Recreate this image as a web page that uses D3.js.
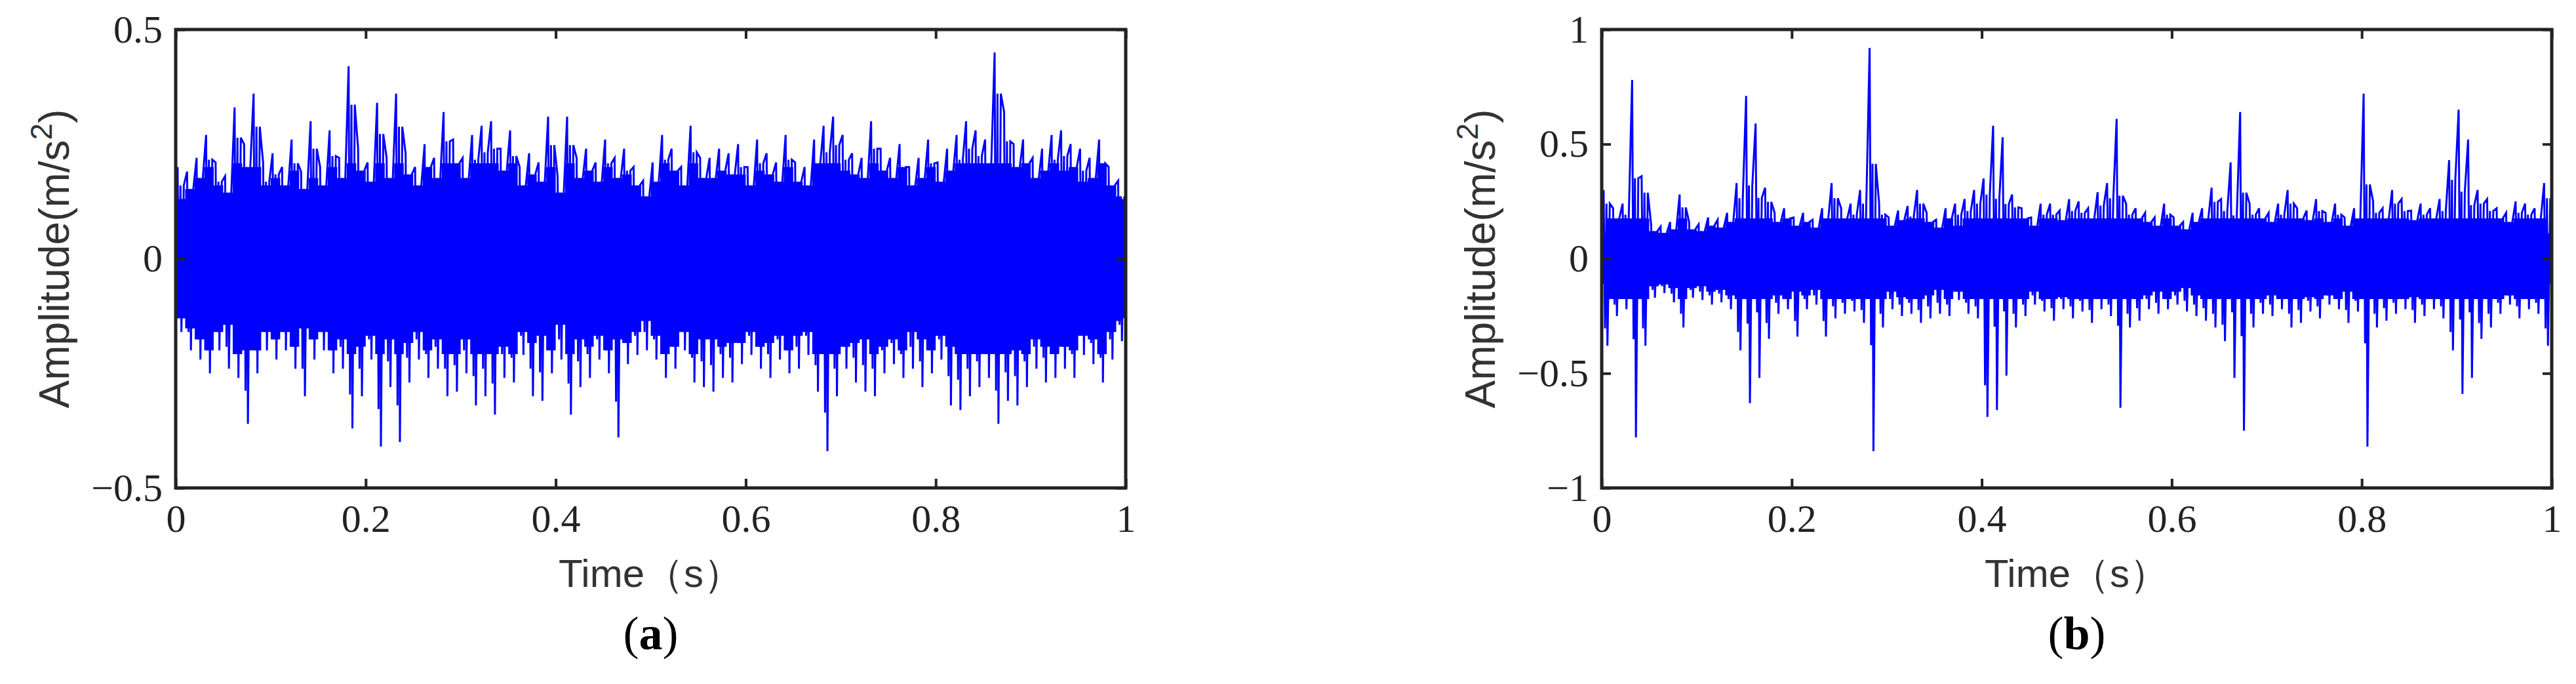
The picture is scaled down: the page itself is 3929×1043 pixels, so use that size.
<!DOCTYPE html>
<html>
<head>
<meta charset="utf-8">
<style>body{margin:0;background:#fff}</style>
</head>
<body>
<script src="https://cdnjs.cloudflare.com/ajax/libs/d3/7.8.5/d3.min.js"></script>
<script>
// peak envelopes read per 0.01 s bin
var upA = [0.20,0.19,0.22,0.27,0.21,0.18,0.33,0.25,0.36,0.21,
  0.23,0.20,0.26,0.19,0.30,0.20,0.28,0.22,0.42,0.24,
  0.21,0.34,0.22,0.36,0.23,0.20,0.25,0.22,0.32,0.26,
  0.22,0.27,0.29,0.30,0.24,0.28,0.20,0.23,0.21,0.31,
  0.18,0.31,0.22,0.24,0.21,0.26,0.22,0.24,0.20,0.17,
  0.21,0.27,0.24,0.20,0.29,0.22,0.22,0.24,0.23,0.25,
  0.20,0.26,0.23,0.21,0.27,0.21,0.20,0.26,0.29,0.31,
  0.27,0.23,0.22,0.30,0.24,0.22,0.25,0.20,0.22,0.26,
  0.21,0.24,0.27,0.30,0.28,0.26,0.45,0.32,0.25,0.26,
  0.22,0.24,0.27,0.28,0.25,0.24,0.22,0.26,0.20,0.17];
var loA = [-0.16,-0.20,-0.22,-0.25,-0.20,-0.24,-0.26,-0.36,-0.25,-0.20,
  -0.22,-0.20,-0.24,-0.30,-0.22,-0.20,-0.25,-0.24,-0.37,-0.30,
  -0.22,-0.41,-0.28,-0.40,-0.27,-0.22,-0.26,-0.24,-0.30,-0.29,
  -0.25,-0.32,-0.30,-0.34,-0.26,-0.27,-0.21,-0.30,-0.31,-0.25,
  -0.22,-0.34,-0.28,-0.26,-0.22,-0.25,-0.39,-0.23,-0.21,-0.20,
  -0.22,-0.26,-0.24,-0.20,-0.27,-0.28,-0.29,-0.26,-0.27,-0.23,
  -0.21,-0.24,-0.26,-0.22,-0.25,-0.24,-0.21,-0.29,-0.42,-0.30,
  -0.24,-0.27,-0.29,-0.30,-0.25,-0.23,-0.26,-0.24,-0.28,-0.25,
  -0.22,-0.32,-0.33,-0.30,-0.28,-0.26,-0.36,-0.31,-0.32,-0.28,
  -0.24,-0.27,-0.26,-0.24,-0.26,-0.21,-0.23,-0.27,-0.22,-0.18];
var upB = [0.30,0.22,0.24,0.78,0.36,0.15,0.14,0.16,0.28,0.16,
  0.15,0.18,0.17,0.20,0.33,0.71,0.59,0.31,0.20,0.22,
  0.18,0.20,0.17,0.22,0.33,0.22,0.24,0.30,0.92,0.24,
  0.18,0.21,0.23,0.30,0.20,0.17,0.22,0.24,0.26,0.30,
  0.35,0.58,0.53,0.28,0.22,0.18,0.24,0.24,0.21,0.26,
  0.25,0.22,0.29,0.33,0.61,0.24,0.22,0.20,0.18,0.24,
  0.18,0.16,0.20,0.22,0.31,0.26,0.42,0.64,0.24,0.22,
  0.20,0.24,0.30,0.22,0.21,0.26,0.20,0.24,0.18,0.22,
  0.72,0.25,0.22,0.30,0.26,0.21,0.24,0.22,0.26,0.43,
  0.65,0.52,0.30,0.26,0.22,0.20,0.25,0.24,0.22,0.33];
var loB = [-0.38,-0.25,-0.22,-0.78,-0.38,-0.17,-0.15,-0.19,-0.30,-0.17,
  -0.18,-0.20,-0.19,-0.22,-0.40,-0.63,-0.52,-0.35,-0.24,-0.22,
  -0.34,-0.22,-0.20,-0.34,-0.26,-0.24,-0.23,-0.28,-0.84,-0.30,
  -0.22,-0.25,-0.24,-0.28,-0.26,-0.24,-0.25,-0.18,-0.24,-0.26,
  -0.69,-0.66,-0.51,-0.30,-0.25,-0.20,-0.23,-0.27,-0.22,-0.26,
  -0.23,-0.28,-0.22,-0.25,-0.65,-0.30,-0.27,-0.22,-0.24,-0.22,
  -0.20,-0.23,-0.25,-0.27,-0.30,-0.36,-0.52,-0.75,-0.30,-0.24,
  -0.25,-0.22,-0.30,-0.28,-0.23,-0.26,-0.20,-0.22,-0.28,-0.23,
  -0.82,-0.30,-0.27,-0.24,-0.22,-0.28,-0.25,-0.22,-0.26,-0.40,
  -0.59,-0.52,-0.35,-0.30,-0.24,-0.20,-0.26,-0.22,-0.24,-0.38];
var xTicks = [0, 0.2, 0.4, 0.6, 0.8, 1];
var yTicksA = [-0.5, 0, 0.5];
var yTicksB = [-1, -0.5, 0, 0.5, 1];
var coreA = 0.13, coreB = 0.11; // dense band half-height

var svg = d3.select("body").append("svg").attr("width", 3929).attr("height", 1043);

function fmt(d) { return d < 0 ? "\u2212" + (-d) : String(d); }

function panel(left, right, ydom, yticks, up, lo, core, tag, ylabX) {
  var top = 45, bottom = 744;
  var x = d3.scaleLinear().domain([0, 1]).range([left, right]);
  var y = d3.scaleLinear().domain(ydom).range([bottom, top]);
  var g = svg.append("g");
  var n = up.length, step = 1 / n;

  // dense core
  g.append("rect").attr("x", x(0)).attr("width", x(1) - x(0))
    .attr("y", y(core)).attr("height", y(-core) - y(core)).attr("fill", "#0000ff");
  // filled band just outside the core
  var band = up.map(function(v, i) {
    var h = Math.min(0.8 * Math.min(v, -lo[i]), 1.6 * core);
    return [(i + 0.5) * step, Math.max(core, h), -Math.max(core, h)];
  });
  g.append("path").datum(band)
    .attr("d", d3.area().curve(d3.curveStep).x(function(d) { return x(d[0]); })
      .y0(function(d) { return y(d[2]); }).y1(function(d) { return y(d[1]); }))
    .attr("fill", "#0000ff");
  // envelope spikes as zigzag
  var pts = [];
  up.forEach(function(v, i) {
    var s = Math.min(v, -lo[i]) > 0.4 ? 0.45 : 0.8; // isolated impacts stay thin
    pts.push([i * step + step * 0.2, v]);
    pts.push([i * step + step * 0.35, s * lo[i]]);
    pts.push([i * step + step * 0.5, s * v]);
    pts.push([i * step + step * 0.6, lo[i]]);
    pts.push([i * step + step * 0.85, s * v]);
  });
  g.append("path").datum(pts)
    .attr("d", d3.line().x(function(d) { return x(d[0]); }).y(function(d) { return y(d[1]); }))
    .attr("fill", "none").attr("stroke", "#0000ff").attr("stroke-width", 3);

  var axStyle = function(sel) {
    sel.select(".domain").remove();
    sel.selectAll("line").attr("stroke", "#222").attr("stroke-width", 4);
    sel.selectAll("text").attr("font-family", "Liberation Serif").attr("font-size", 60).attr("fill", "#222");
  };
  g.append("g").attr("transform", "translate(0," + bottom + ")")
    .call(d3.axisBottom(x).tickValues(xTicks).tickSize(-14).tickPadding(24).tickFormat(fmt)).call(axStyle);
  g.append("g").attr("transform", "translate(0," + top + ")")
    .call(d3.axisTop(x).tickValues(xTicks).tickSize(-14).tickFormat("")).call(axStyle);
  g.append("g").attr("transform", "translate(" + left + ",0)")
    .call(d3.axisLeft(y).tickValues(yticks).tickSize(-14).tickPadding(20).tickFormat(fmt)).call(axStyle);
  g.append("g").attr("transform", "translate(" + right + ",0)")
    .call(d3.axisRight(y).tickValues(yticks).tickSize(-14).tickFormat("")).call(axStyle);
  g.append("rect").attr("x", left).attr("y", top).attr("width", right - left).attr("height", bottom - top)
    .attr("fill", "none").attr("stroke", "#222").attr("stroke-width", 5);

  g.append("text").attr("x", (left + right) / 2).attr("y", 895).attr("text-anchor", "middle")
    .attr("font-family", "Liberation Sans").attr("font-size", 60).attr("fill", "#333")
    .text("Time\uFF08s\uFF09");
  var yl = g.append("text").attr("transform", "translate(" + ylabX + "," + (top + bottom) / 2 + ") rotate(-90)")
    .attr("text-anchor", "middle").attr("font-family", "Liberation Sans").attr("font-size", 64).attr("fill", "#333");
  yl.append("tspan").text("Amplitude(m/s");
  yl.append("tspan").attr("dy", -26).attr("font-size", 46).text("2");
  yl.append("tspan").attr("dy", 26).text(")");

  var cap = g.append("text").attr("x", (left + right) / 2).attr("y", 990).attr("text-anchor", "middle")
    .attr("font-family", "Liberation Serif").attr("font-size", 72).attr("fill", "#000");
  cap.append("tspan").text("(");
  cap.append("tspan").attr("font-weight", "bold").text(tag);
  cap.append("tspan").text(")");
}

panel(268, 1717, [-0.5, 0.5], yTicksA, upA, loA, coreA, "a", 105);
panel(2443, 3892, [-1, 1], yTicksB, upB, loB, coreB, "b", 2280);
</script>
</body>
</html>
